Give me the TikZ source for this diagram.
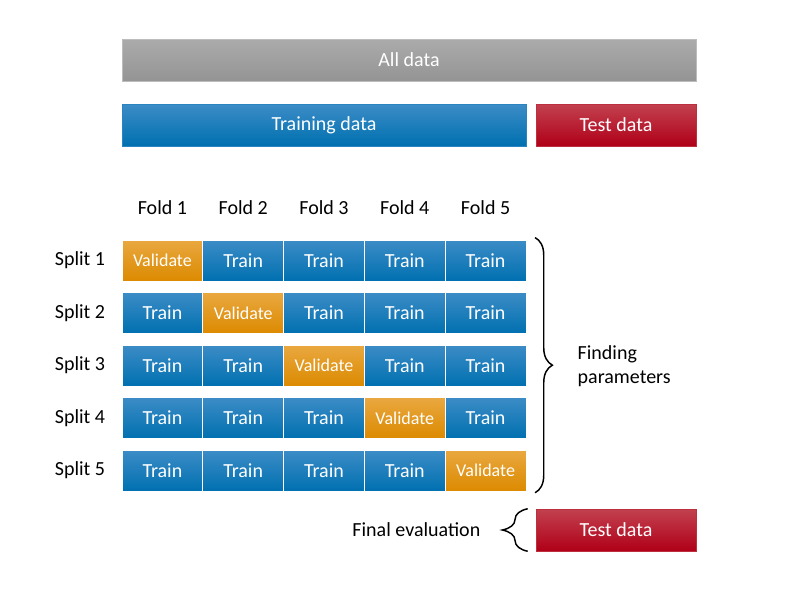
\documentclass[tikz,border=0pt]{standalone}
\usepackage{fontspec}
\setmainfont{Carlito}
\usepackage{xcolor}
\usepackage{tikz}
\usetikzlibrary{positioning, decorations.pathreplacing}

\definecolor{graytop}{HTML}{ABABAB}
\definecolor{graybot}{HTML}{949494}
\definecolor{bluetop}{HTML}{3C8CC6}
\definecolor{bluebot}{HTML}{0070B0}
\definecolor{redtop}{HTML}{C2414F}
\definecolor{redbot}{HTML}{B00018}
\definecolor{orgtop}{HTML}{E9A840}
\definecolor{orgbot}{HTML}{DC8A00}

\begin{document}
\begin{tikzpicture}[
  x=0.75pt, y=-0.75pt,
  box/.style={rectangle, inner sep=0pt, text=white, font=\fontsize{15}{17}\selectfont},
  alldata/.style={box, top color=graytop, bottom color=graybot, draw=graytop!80!white, minimum height=31.5pt},
  traindata/.style={box, top color=bluetop, bottom color=bluebot, draw=bluetop!70!bluebot, minimum height=31.5pt},
  testdata/.style={box, top color=redtop, bottom color=redbot, draw=redtop!70!redbot, minimum width=120pt, minimum height=31.5pt},
  cell/.style={box, draw=white, line width=0.6pt, minimum width=60.6pt, minimum height=30.75pt},
  traincell/.style={cell, top color=bluetop, bottom color=bluebot},
  valcell/.style={cell, top color=orgtop, bottom color=orgbot, font=\fontsize{13.5}{16}\selectfont},
  lbl/.style={font=\fontsize{15}{18}\selectfont},
  curly/.style={decorate, decoration={brace, amplitude=#1}, line width=1.1pt},
  curly/.default=13pt
]
\useasboundingbox (0,0) rectangle (796,597);

\node[alldata, minimum width=430.5pt] (all) at (409,60) {All data};
\node[traindata, minimum width=303pt] (train) at (324,125) {Training data};
\node[testdata] (test) at (616,125) {Test data};

% folds and splits
\foreach \i in {1,...,5} {
  \node[lbl] (fold\i) at ({162.4+80.8*(\i-1)},208) {Fold \i};
  \node[lbl] (split\i) at (80,{260.5+52.5*(\i-1)}) {Split \i};
  \foreach \j in {1,...,5} {
    \ifnum\i=\j
      \node[valcell] (c\i\j) at ({162.4+80.8*(\j-1)},{260.5+52.5*(\i-1)}) {Validate};
    \else
      \node[traincell] (c\i\j) at ({162.4+80.8*(\j-1)},{260.5+52.5*(\i-1)}) {Train};
    \fi
  }
}

\draw[curly] ([xshift=6.5pt, yshift=1.5pt]c15.north east) -- ([xshift=6.5pt, yshift=-1pt]c55.south east);
\node[lbl, align=left, anchor=west] (finding) at (573,366) {Finding\\parameters};

\node[testdata] (final) at (616,530) {Test data};
\draw[curly=19pt] ([xshift=-6pt]final.south west) -- ([xshift=-6pt]final.north west);
\node[lbl, anchor=east] (evaluation) at (485,530) {Final evaluation};
\end{tikzpicture}
\end{document}
